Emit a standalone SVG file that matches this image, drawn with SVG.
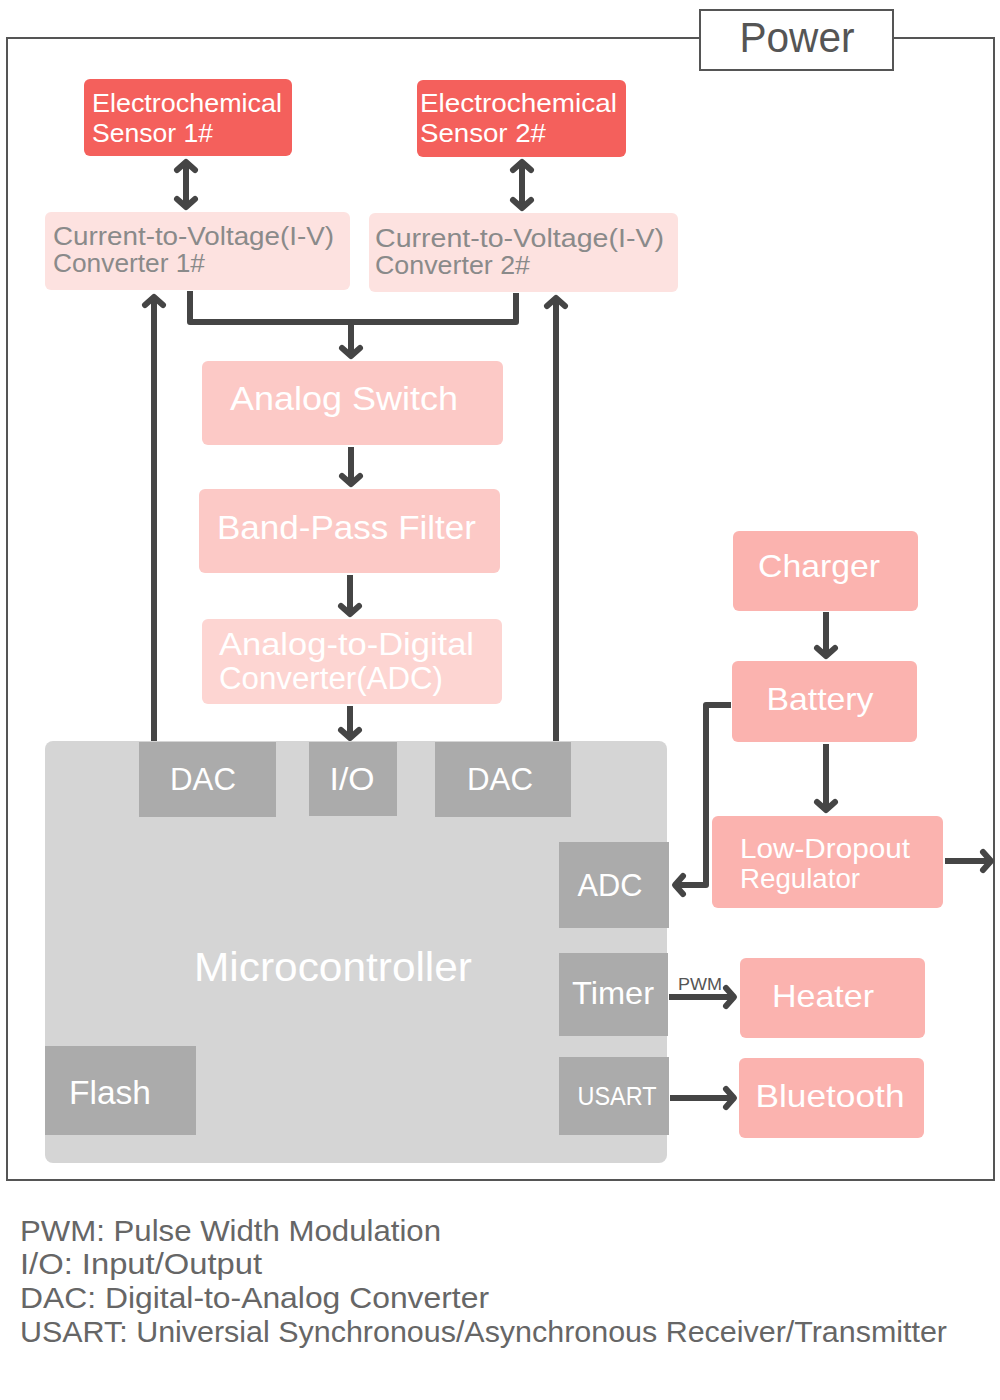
<svg xmlns="http://www.w3.org/2000/svg" width="1000" height="1400" viewBox="0 0 1000 1400">
<style>
text{font-family:"Liberation Sans","DejaVu Sans",sans-serif}
.w{fill:#ffffff}
.g{fill:#8a8a8a}
.sen{fill:#f4605c}
.iv{fill:#fde2e0}
.pk{fill:#fcc9c6}
.pk2{fill:#fdd5d2}
.pw{fill:#fbb3af}
.gb{fill:#ababab}
.mc{fill:#d5d5d5}
.ln{fill:none;stroke:#454545;stroke-width:6;stroke-linejoin:round}
.a{marker-end:url(#ah)}
.lg{fill:#666666;font-size:29px}
</style>
<defs>
<marker id="ah" markerUnits="userSpaceOnUse" markerWidth="30" markerHeight="30" viewBox="-15 -15 30 30" refX="0" refY="0" orient="auto-start-reverse">
<path d="M-9,-9 L-1,0 L-9,9" fill="none" stroke="#454545" stroke-width="6" stroke-linecap="round" stroke-linejoin="round"/>
</marker>
</defs>
<rect width="1000" height="1400" fill="#ffffff"/>
<g id="power-frame">
<rect x="7" y="38" width="987" height="1142" fill="none" stroke="#555555" stroke-width="2"/>
<rect x="700" y="10" width="193" height="60" fill="#ffffff" stroke="#555555" stroke-width="2"/>
<text x="797" y="52" text-anchor="middle" font-size="42" fill="#555555" textLength="115" lengthAdjust="spacingAndGlyphs">Power</text>
</g>
<g id="connectors">
<path class="ln a" d="M186,161 V208" style="marker-start:url(#ah)"/>
<path class="ln a" d="M522,161 V209" style="marker-start:url(#ah)"/>
<path class="ln" d="M190,291 V322 H516 V293"/>
<path class="ln a" d="M351,322 V357"/>
<path class="ln a" d="M351,447 V485"/>
<path class="ln a" d="M350,575 V615"/>
<path class="ln a" d="M350,706 V739"/>
<path class="ln a" d="M154,742 V296"/>
<path class="ln a" d="M556,742 V297"/>
<path class="ln a" d="M826,612 V657"/>
<path class="ln a" d="M826,744 V811"/>
<path class="ln a" d="M731,705 H706 V885 H674"/>
<path class="ln a" d="M945,861 H992"/>
<path class="ln a" d="M669,997 H735"/>
<path class="ln a" d="M670,1098 H735"/>
<text x="678" y="990" font-size="16" fill="#555555" textLength="44" lengthAdjust="spacingAndGlyphs">PWM</text>
</g>
<g id="sensor1">
<rect class="sen" x="84" y="79" width="208" height="77" rx="6"/>
<text class="w" x="92" y="112" font-size="26" textLength="190" lengthAdjust="spacingAndGlyphs">Electrochemical</text>
<text class="w" x="92" y="142" font-size="26" textLength="121" lengthAdjust="spacingAndGlyphs">Sensor 1#</text>
</g>
<g id="sensor2">
<rect class="sen" x="417" y="80" width="209" height="77" rx="6"/>
<text class="w" x="420" y="112" font-size="26" textLength="197" lengthAdjust="spacingAndGlyphs">Electrochemical</text>
<text class="w" x="420" y="142" font-size="26" textLength="126" lengthAdjust="spacingAndGlyphs">Sensor 2#</text>
</g>
<g id="iv1">
<rect class="iv" x="45" y="212" width="305" height="78" rx="6"/>
<text class="g" x="53" y="245" font-size="25" textLength="281" lengthAdjust="spacingAndGlyphs">Current-to-Voltage(I-V)</text>
<text class="g" x="53" y="272" font-size="25" textLength="152" lengthAdjust="spacingAndGlyphs">Converter 1#</text>
</g>
<g id="iv2">
<rect class="iv" x="369" y="213" width="309" height="79" rx="6"/>
<text class="g" x="375" y="247" font-size="25" textLength="289" lengthAdjust="spacingAndGlyphs">Current-to-Voltage(I-V)</text>
<text class="g" x="375" y="274" font-size="25" textLength="155" lengthAdjust="spacingAndGlyphs">Converter 2#</text>
</g>
<g id="analog-switch">
<rect class="pk" x="202" y="361" width="301" height="84" rx="6"/>
<text class="w" x="230" y="410" font-size="34" textLength="228" lengthAdjust="spacingAndGlyphs">Analog Switch</text>
</g>
<g id="band-pass-filter">
<rect class="pk" x="199" y="489" width="301" height="84" rx="6"/>
<text class="w" x="217" y="539" font-size="34" textLength="259" lengthAdjust="spacingAndGlyphs">Band-Pass Filter</text>
</g>
<g id="adc-block">
<rect class="pk2" x="202" y="619" width="300" height="85" rx="6"/>
<text class="w" x="219" y="655" font-size="31" textLength="255" lengthAdjust="spacingAndGlyphs">Analog-to-Digital</text>
<text class="w" x="219" y="689" font-size="31" textLength="224" lengthAdjust="spacingAndGlyphs">Converter(ADC)</text>
</g>
<g id="microcontroller">
<rect class="mc" x="45" y="741" width="622" height="422" rx="8"/>
<text class="w" x="333" y="981" font-size="40" text-anchor="middle" textLength="278" lengthAdjust="spacingAndGlyphs">Microcontroller</text>
</g>
<g id="dac1">
<rect class="gb" x="139" y="742" width="137" height="75"/>
<text class="w" x="203" y="790" font-size="32" text-anchor="middle" textLength="66" lengthAdjust="spacingAndGlyphs">DAC</text>
</g>
<g id="io">
<rect class="gb" x="309" y="742" width="88" height="74"/>
<text class="w" x="352" y="790" font-size="32" text-anchor="middle" textLength="45" lengthAdjust="spacingAndGlyphs">I/O</text>
</g>
<g id="dac2">
<rect class="gb" x="435" y="742" width="136" height="75"/>
<text class="w" x="500" y="790" font-size="32" text-anchor="middle" textLength="66" lengthAdjust="spacingAndGlyphs">DAC</text>
</g>
<g id="adc-port">
<rect class="gb" x="559" y="842" width="110" height="86"/>
<text class="w" x="610" y="896" font-size="32" text-anchor="middle" textLength="65" lengthAdjust="spacingAndGlyphs">ADC</text>
</g>
<g id="timer">
<rect class="gb" x="559" y="953" width="109" height="83"/>
<text class="w" x="613" y="1004" font-size="32" text-anchor="middle" textLength="82" lengthAdjust="spacingAndGlyphs">Timer</text>
</g>
<g id="usart">
<rect class="gb" x="559" y="1057" width="110" height="78"/>
<text class="w" x="617" y="1105" font-size="26" text-anchor="middle" textLength="79" lengthAdjust="spacingAndGlyphs">USART</text>
</g>
<g id="flash">
<rect class="gb" x="45" y="1046" width="151" height="89"/>
<text class="w" x="69" y="1104" font-size="34" textLength="82" lengthAdjust="spacingAndGlyphs">Flash</text>
</g>
<g id="charger">
<rect class="pw" x="733" y="531" width="185" height="80" rx="6"/>
<text class="w" x="819" y="577" font-size="32" text-anchor="middle" textLength="122" lengthAdjust="spacingAndGlyphs">Charger</text>
</g>
<g id="battery">
<rect class="pw" x="732" y="661" width="185" height="81" rx="6"/>
<text class="w" x="820" y="710" font-size="32" text-anchor="middle" textLength="107" lengthAdjust="spacingAndGlyphs">Battery</text>
</g>
<g id="ldo">
<rect class="pw" x="712" y="816" width="231" height="92" rx="6"/>
<text class="w" x="740" y="858" font-size="28" textLength="170" lengthAdjust="spacingAndGlyphs">Low-Dropout</text>
<text class="w" x="740" y="888" font-size="28" textLength="120" lengthAdjust="spacingAndGlyphs">Regulator</text>
</g>
<g id="heater">
<rect class="pw" x="740" y="958" width="185" height="80" rx="6"/>
<text class="w" x="823" y="1007" font-size="32" text-anchor="middle" textLength="102" lengthAdjust="spacingAndGlyphs">Heater</text>
</g>
<g id="bluetooth">
<rect class="pw" x="739" y="1058" width="185" height="80" rx="6"/>
<text class="w" x="830" y="1107" font-size="32" text-anchor="middle" textLength="149" lengthAdjust="spacingAndGlyphs">Bluetooth</text>
</g>
<g id="legend">
<text class="lg" x="20" y="1241" textLength="421" lengthAdjust="spacingAndGlyphs">PWM: Pulse Width Modulation</text>
<text class="lg" x="20" y="1274" textLength="242" lengthAdjust="spacingAndGlyphs">I/O: Input/Output</text>
<text class="lg" x="20" y="1308" textLength="469" lengthAdjust="spacingAndGlyphs">DAC: Digital-to-Analog Converter</text>
<text class="lg" x="20" y="1342" textLength="927" lengthAdjust="spacingAndGlyphs">USART: Universial Synchronous/Asynchronous Receiver/Transmitter</text>
</g>
</svg>
